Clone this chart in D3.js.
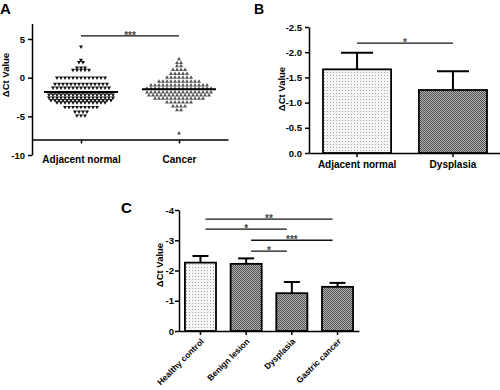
<!DOCTYPE html>
<html>
<head>
<meta charset="utf-8">
<script src="https://cdn.jsdelivr.net/npm/d3@7"></script>
<style>
body { margin: 0; background: #fff; }
svg { display: block; font-family: "Liberation Sans", Arial, sans-serif; font-weight: bold; }
</style>
</head>
<body>
<div id="chart"></div>
<script>
// panel A: individual delta Ct values
var groupsA = ["Adjacent normal", "Cancer"];
var adjacentNormal = [
  4.0, 2.3, 2.0, 2.0, 1.3, 1.3, 1.3, 1.0, 1.0, 1.0, 1.0, 1.0,
  0.0, 0.0, 0.0, 0.0, 0.0, 0.0, 0.0, 0.0, 0.0, 0.0, 0.0, 0.0, 0.0,
  -0.8, -0.8, -0.8, -0.8, -0.8, -0.8, -0.8, -0.8, -0.8, -0.8, -0.8, -0.8, -0.8, -0.8,
  -1.3, -1.3, -1.3, -1.3, -1.3, -1.3, -1.3, -1.3, -1.3, -1.3, -1.3, -1.3, -1.3, -1.3, -1.3,
  -1.9, -1.9, -1.9, -1.9, -1.9, -1.9, -1.9, -1.9, -1.9, -1.9, -1.9, -1.9, -1.9, -1.9, -1.9, -1.9,
  -2.2, -2.2, -2.2, -2.2, -2.2, -2.2, -2.2, -2.2, -2.2, -2.2, -2.2, -2.2, -2.2, -2.2, -2.2, -2.2, -2.2,
  -2.6, -2.6, -2.6, -2.6, -2.6, -2.6, -2.6, -2.6, -2.6, -2.6, -2.6, -2.6, -2.6, -2.6, -2.6, -2.6, -2.6,
  -2.9, -2.9, -2.9, -2.9, -2.9, -2.9, -2.9, -2.9, -2.9, -2.9, -2.9, -2.9, -2.9, -2.9, -2.9, -2.9,
  -3.2, -3.2, -3.2, -3.2, -3.2, -3.2, -3.2, -3.2, -3.2, -3.2, -3.2, -3.2, -3.2,
  -3.8, -3.8, -3.8, -3.8, -3.8, -3.8, -3.8, -3.8, -3.8,
  -4.4, -4.4, -4.4, -4.4,
  -4.9, -4.9, -4.9
];
var cancer = [
  2.4, 1.9, 1.9, 1.5, 1.5, 1.0, 1.0, 1.0, 1.0,
  0.5, 0.5, 0.5, 0.5, 0.5,
  0.0, 0.0, 0.0, 0.0, 0.0, 0.0, 0.0,
  -0.5, -0.5, -0.5, -0.5, -0.5, -0.5, -0.5, -0.5, -0.5, -0.5, -0.5,
  -1.0, -1.0, -1.0, -1.0, -1.0, -1.0, -1.0, -1.0, -1.0, -1.0, -1.0, -1.0, -1.0, -1.0, -1.0,
  -1.4, -1.4, -1.4, -1.4, -1.4, -1.4, -1.4, -1.4, -1.4, -1.4, -1.4, -1.4, -1.4, -1.4, -1.4, -1.4, -1.4,
  -1.9, -1.9, -1.9, -1.9, -1.9, -1.9, -1.9, -1.9, -1.9, -1.9, -1.9, -1.9, -1.9, -1.9, -1.9, -1.9, -1.9,
  -2.3, -2.3, -2.3, -2.3, -2.3, -2.3, -2.3, -2.3, -2.3, -2.3, -2.3, -2.3, -2.3, -2.3, -2.3, -2.3,
  -2.7, -2.7, -2.7, -2.7, -2.7, -2.7, -2.7, -2.7, -2.7, -2.7, -2.7, -2.7, -2.7,
  -3.2, -3.2, -3.2, -3.2, -3.2, -3.2, -3.2,
  -3.7, -3.7, -3.7, -3.7,
  -4.2, -4.2,
  -7.2
];
var ticksA = [5, 0, -5, -10];

// panel B: mean and SEM
var groupsB = ["Adjacent normal", "Dysplasia"];
var meansB = [-1.66, -1.25];
var semB = [0.33, 0.37];
var ticksB = [-2.5, -2.0, -1.5, -1.0, -0.5, 0.0];

// panel C: mean and SEM
var groupsC = ["Healthy control", "Benign lesion", "Dysplasia", "Gastric cancer"];
var meansC = [-2.26, -2.22, -1.25, -1.46];
var semC = [0.22, 0.18, 0.37, 0.13];
var ticksC = [-4, -3, -2, -1, 0];

// significance brackets: [from, to, label, level]
var sigA = [[0, 1, "***", 5.4]];
var sigB = [[0, 1, "*", -2.18]];
var sigC = [[0, 3, "**", -3.7], [0, 2, "*", -3.37], [1, 3, "***", -3.0], [1, 2, "*", -2.64]];

var svg = d3.select("#chart").append("svg")
  .attr("width", 500)
  .attr("height", 390);

// fill patterns for the bars
var defs = svg.append("defs");
var dots = defs.append("pattern").attr("id", "dots")
  .attr("width", 3).attr("height", 3).attr("patternUnits", "userSpaceOnUse");
dots.append("rect").attr("width", 3).attr("height", 3).attr("fill", "#f6f6f6");
dots.append("rect").attr("width", 1).attr("height", 1).attr("fill", "#a8a8a8");
var checks = defs.append("pattern").attr("id", "checks")
  .attr("width", 2).attr("height", 2).attr("patternUnits", "userSpaceOnUse");
checks.append("rect").attr("width", 2).attr("height", 2).attr("fill", "#b4b4b4");
checks.append("rect").attr("width", 1).attr("height", 1).attr("fill", "#505050");
checks.append("rect").attr("x", 1).attr("y", 1).attr("width", 1).attr("height", 1).attr("fill", "#505050");

function styleAxis(g, size) {
  g.selectAll("path, line").attr("stroke", "#000").attr("stroke-width", 1.5);
  g.selectAll("text").attr("font-size", size).attr("fill", "#000")
    .attr("font-family", "Liberation Sans, Arial, sans-serif").attr("font-weight", "bold");
}

function yTitle(x, y) {
  svg.append("text")
    .attr("transform", "translate(" + x + "," + y + ") rotate(-90)")
    .attr("text-anchor", "middle")
    .attr("font-size", 9.5)
    .text("\u0394Ct Value");
}

function brackets(list, xPos, yScale, inset) {
  list.forEach(function(s) {
    var x1 = xPos(s[0]) + inset, x2 = xPos(s[1]) - inset, y = yScale(s[3]);
    svg.append("line")
      .attr("x1", x1).attr("x2", x2).attr("y1", y).attr("y2", y)
      .attr("stroke", "#111").attr("stroke-width", 1.3);
    svg.append("text")
      .attr("x", (x1 + x2) / 2).attr("y", y + 3)
      .attr("text-anchor", "middle")
      .attr("font-size", 10)
      .attr("fill", "#444")
      .text(s[2]);
  });
}

// ---------- Panel A ----------
var yA = d3.scaleLinear().domain([-10, 7]).range([155, 23.5]);
var xA = d3.scalePoint().domain(groupsA).range([32, 228]).padding(0.5);

svg.append("g")
  .attr("transform", "translate(32,0)")
  .call(d3.axisLeft(yA).tickValues(ticksA).tickSize(4).tickSizeOuter(0).tickFormat(function(d) { return String(d); }))
  .call(styleAxis, 9.5);

svg.append("g")
  .attr("transform", "translate(0," + yA(-8) + ")")
  .call(d3.axisBottom(xA).tickSize(4).tickSizeOuter(0).tickPadding(12))
  .call(styleAxis, 10);

var seriesA = [
  { name: groupsA[0], values: adjacentNormal, rotate: 180, fill: "#111" },
  { name: groupsA[1], values: cancer, rotate: 0, fill: "#555" }
];
var tri = d3.symbol().type(d3.symbolTriangle).size(7);

seriesA.forEach(function(s) {
  var cx = xA(s.name);
  // spread points that share a value into a centred row
  var rows = d3.group(s.values, function(v) { return v.toFixed(1); });
  var pts = [];
  rows.forEach(function(vals) {
    vals.forEach(function(v, i) {
      pts.push({ x: cx + (i - (vals.length - 1) / 2) * 4, y: yA(v) });
    });
  });
  svg.append("g").selectAll("path")
    .data(pts)
    .enter()
    .append("path")
    .attr("d", tri)
    .attr("transform", function(d) { return "translate(" + d.x + "," + d.y + ") rotate(" + s.rotate + ")"; })
    .attr("fill", s.fill);
  var m = d3.mean(s.values);
  svg.append("line")
    .attr("x1", cx - 37).attr("x2", cx + 37)
    .attr("y1", yA(m)).attr("y2", yA(m))
    .attr("stroke", "#000").attr("stroke-width", 2);
});

yTitle(9, 75);
brackets(sigA, function(i) { return xA(groupsA[i]); }, yA, 0);
svg.append("text").attr("x", 0).attr("y", 14).attr("font-size", 15).text("A");

// ---------- Panel B ----------
var yB = d3.scaleLinear().domain([0, -2.5]).range([153, 27]);
var xB = d3.scaleBand().domain(groupsB).range([309, 501]).paddingInner(0.29).paddingOuter(0.146);

svg.append("g")
  .attr("transform", "translate(309,0)")
  .call(d3.axisLeft(yB).tickValues(ticksB).tickSize(4).tickSizeOuter(0).tickFormat(function(d) { return d.toFixed(1); }))
  .call(styleAxis, 9.5);

svg.append("g")
  .attr("transform", "translate(0," + yB(0) + ")")
  .call(d3.axisBottom(xB).tickSize(4).tickSizeOuter(0).tickPadding(4))
  .call(styleAxis, 10);

groupsB.forEach(function(g, i) {
  var cx = xB(g) + xB.bandwidth() / 2;
  var top = yB(meansB[i] - semB[i]);
  svg.append("line").attr("x1", cx).attr("x2", cx).attr("y1", yB(meansB[i])).attr("y2", top)
    .attr("stroke", "#000").attr("stroke-width", 2);
  svg.append("line").attr("x1", cx - 16).attr("x2", cx + 16).attr("y1", top).attr("y2", top)
    .attr("stroke", "#000").attr("stroke-width", 2);
});

svg.append("g").selectAll("rect")
  .data(meansB)
  .enter()
  .append("rect")
  .attr("x", function(d, i) { return xB(groupsB[i]); })
  .attr("y", function(d) { return yB(d); })
  .attr("width", xB.bandwidth())
  .attr("height", function(d) { return yB(0) - yB(d); })
  .attr("fill", function(d, i) { return i === 0 ? "url(#dots)" : "url(#checks)"; })
  .attr("stroke", "#000")
  .attr("stroke-width", 1.8);

yTitle(285, 89);
brackets(sigB, function(i) { return xB(groupsB[i]) + xB.bandwidth() / 2; }, yB, 0);
svg.append("text").attr("x", 254).attr("y", 14).attr("font-size", 14).text("B");

// ---------- Panel C ----------
var yC = d3.scaleLinear().domain([0, -4]).range([331, 210]);
var xC = d3.scaleBand().domain(groupsC).range([179, 359]).paddingInner(0.32).paddingOuter(0.13);

svg.append("g")
  .attr("transform", "translate(179,0)")
  .call(d3.axisLeft(yC).tickValues(ticksC).tickSize(4).tickSizeOuter(0).tickPadding(1)
    .tickFormat(function(d) { return String(d); }))
  .call(styleAxis, 9.5);

var axC = svg.append("g")
  .attr("transform", "translate(0," + yC(0) + ")")
  .call(d3.axisBottom(xC).tickSize(4).tickSizeOuter(0))
  .call(styleAxis, 8.5);
axC.selectAll(".tick text")
  .attr("x", 0).attr("y", 0).attr("dy", 0)
  .attr("text-anchor", "end")
  .attr("transform", "translate(4,11) rotate(-45)");

groupsC.forEach(function(g, i) {
  var cx = xC(g) + xC.bandwidth() / 2;
  var top = yC(meansC[i] - semC[i]);
  svg.append("line").attr("x1", cx).attr("x2", cx).attr("y1", yC(meansC[i])).attr("y2", top)
    .attr("stroke", "#000").attr("stroke-width", 2);
  svg.append("line").attr("x1", cx - 8).attr("x2", cx + 8).attr("y1", top).attr("y2", top)
    .attr("stroke", "#000").attr("stroke-width", 2);
});

svg.append("g").selectAll("rect")
  .data(meansC)
  .enter()
  .append("rect")
  .attr("x", function(d, i) { return xC(groupsC[i]); })
  .attr("y", function(d) { return yC(d); })
  .attr("width", xC.bandwidth())
  .attr("height", function(d) { return yC(0) - yC(d); })
  .attr("fill", function(d, i) { return i === 0 ? "url(#dots)" : "url(#checks)"; })
  .attr("stroke", "#000")
  .attr("stroke-width", 1.8);

yTitle(163, 265);
brackets(sigC, function(i) { return xC(groupsC[i]) + xC.bandwidth() / 2; }, yC, 5);
svg.append("text").attr("x", 121).attr("y", 213).attr("font-size", 15).text("C");
</script>
</body>
</html>
